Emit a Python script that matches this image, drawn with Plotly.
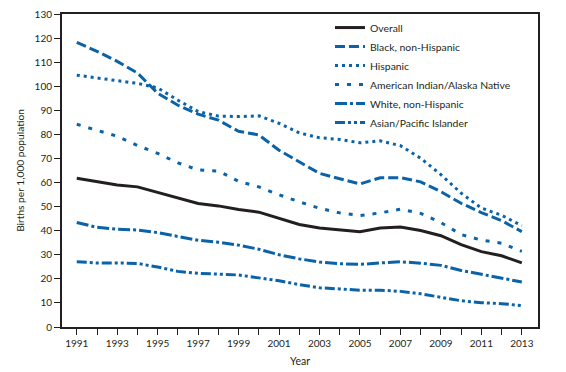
import plotly.graph_objects as go

years = list(range(1991, 2014))
overall = [61.8, 60.3, 59.0, 58.2, 56.0, 53.5, 51.3, 50.3, 48.8, 47.7, 45.0, 42.6, 41.1, 40.5, 39.6, 41.1, 41.5, 40.1, 37.9, 34.2, 31.3, 29.6, 26.6]
black = [118.2, 114.5, 110.3, 105.5, 97.1, 92.1, 88.4, 85.9, 81.3, 79.8, 73.4, 68.5, 63.8, 61.6, 59.4, 62.0, 62.0, 60.3, 56.2, 51.4, 47.5, 44.2, 39.6]
hispanic = [104.6, 103.6, 102.3, 101.2, 99.3, 94.2, 89.5, 87.6, 87.4, 87.7, 84.6, 80.6, 78.6, 77.9, 76.5, 77.3, 75.3, 70.1, 63.3, 55.6, 49.4, 46.4, 42.1]
aian = [84.2, 81.8, 79.2, 75.4, 72.1, 68.2, 65.2, 64.8, 60.5, 58.2, 54.9, 52.0, 49.3, 47.4, 46.3, 47.4, 48.9, 47.2, 43.4, 38.4, 36.1, 34.8, 31.4]
white = [43.4, 41.4, 40.6, 40.3, 39.2, 37.6, 36.0, 35.2, 34.0, 32.3, 30.0, 28.3, 27.0, 26.3, 26.0, 26.6, 27.1, 26.5, 25.6, 23.5, 21.9, 20.6, 18.7]
asian = [27.1, 26.6, 26.6, 26.4, 24.9, 23.1, 22.3, 22.1, 21.6, 20.4, 19.2, 17.6, 16.3, 15.8, 15.3, 15.3, 14.8, 13.8, 12.4, 10.9, 10.1, 9.7, 8.9]

series_names = ["Overall", "Black, non-Hispanic", "Hispanic",
                "American Indian/Alaska Native", "White, non-Hispanic", "Asian/Pacific Islander"]
x_tick_labels = [str(y) if (y - 1991) % 2 == 0 else "" for y in years]
y_ticks = list(range(0, 131, 10))

BLUE = "#0a62a9"
TEXT = "#231f20"
styles = [
    ("#231f20", "solid"),
    (BLUE, "10px,4px"),
    (BLUE, "3px,4px"),
    (BLUE, "4px,8px"),
    (BLUE, "12px,3px,3px,3px"),
    (BLUE, "10px,3px,3px,3px,3px,3px"),
]
data = [overall, black, hispanic, aian, white, asian]

fig = go.Figure()
for name, vals, (col, dash) in zip(series_names, data, styles):
    fig.add_trace(go.Scatter(x=years, y=vals, mode="lines", name=name,
                             line=dict(color=col, width=3, dash=dash)))

fig.update_layout(
    width=558, height=364,
    margin=dict(l=54, r=28, t=6, b=45, autoexpand=False),
    paper_bgcolor="white", plot_bgcolor="white",
    font=dict(family="Lato", size=10, color=TEXT),
    showlegend=True,
    legend=dict(x=0.563, y=1.003, xanchor="left", yanchor="top",
                bgcolor="rgba(0,0,0,0)", itemwidth=30,
                font=dict(size=10.4, color=TEXT), tracegroupgap=0),
    xaxis=dict(range=[1990.27, 2013.8], tickmode="array", tickvals=years,
               ticktext=x_tick_labels, ticks="outside", ticklen=6, tickwidth=1,
               tickcolor=TEXT, showline=True, linecolor=TEXT, linewidth=2,
               mirror=True, showgrid=False, zeroline=False, automargin=False,
               ticklabeloverflow="allow",
               title=dict(text="Year", font=dict(size=10.5), standoff=10)),
    yaxis=dict(range=[0, 130], tickmode="array", tickvals=y_ticks,
               ticks="outside", ticklen=6, tickwidth=1, tickcolor=TEXT,
               showline=True, linecolor=TEXT, linewidth=2, mirror=True,
               showgrid=False, zeroline=False, automargin=False,
               ticklabeloverflow="allow",
               title=dict(text="Births per 1,000 population", font=dict(size=10.2), standoff=8)),
)

fig.write_html("out.html")
